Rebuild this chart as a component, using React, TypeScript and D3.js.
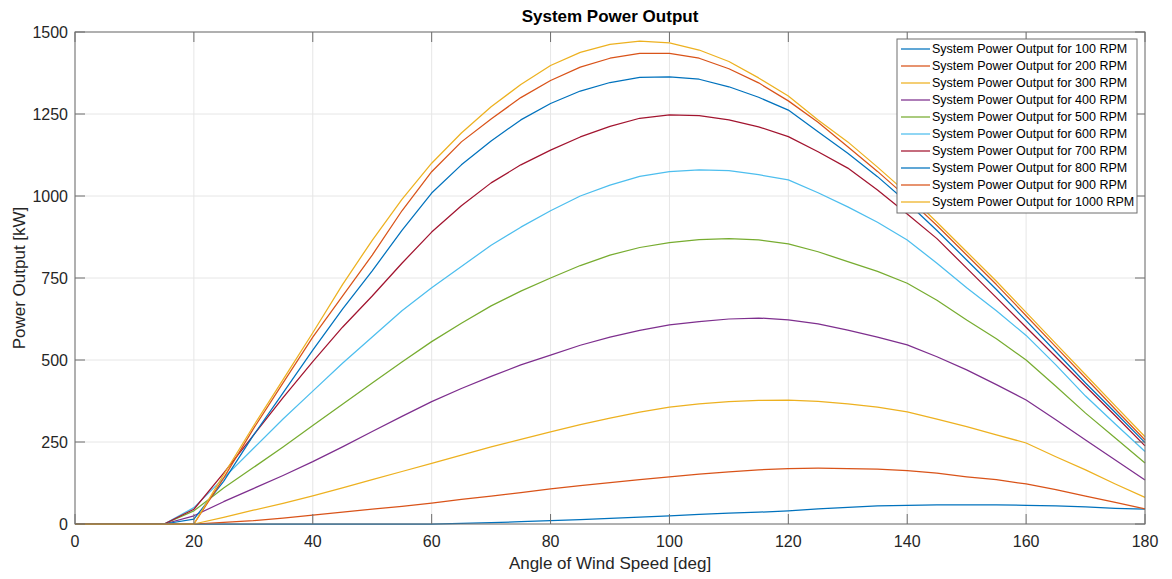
import React from "react";
import * as d3 from "d3";

// Wind angle samples (deg), 5-degree steps from 0 to 180
const angles: number[] = d3.range(0, 181, 5);

// System power output [kW] per rotor speed, one value per angle
const p100: number[] = [0,0,0,0,0,0,0,0,0,0,0,0,0,2,4,7,10,13,17,21,25,29,33,36,40,46,51,55,57,58,58,58,57,55,52,48,45];
const p200: number[] = [0,0,0,0,0,5,10,18,27,36,45,54,64,75,85,96,107,117,126,135,144,152,159,165,169,170,169,167,163,155,144,135,122,105,85,66,46];
const p300: number[] = [0,0,0,0,0,20,42,63,86,110,135,160,185,210,235,258,281,303,323,341,356,366,373,377,378,374,366,356,342,320,297,272,247,205,165,122,81];
const p400: number[] = [0,0,0,0,25,68,108,148,190,235,282,328,373,413,450,485,515,545,570,590,607,617,625,628,622,610,591,570,546,510,470,425,378,318,256,195,134];
const p500: number[] = [0,0,0,0,40,110,172,235,300,365,430,494,556,612,665,710,750,788,820,843,858,867,870,866,854,830,800,770,734,682,622,565,500,420,338,262,186];
const p600: number[] = [0,0,0,0,50,140,230,320,405,490,570,650,720,785,850,905,955,1000,1033,1060,1074,1080,1077,1065,1049,1010,967,920,866,795,720,650,575,485,390,305,221];
const p700: number[] = [0,0,0,0,45,155,270,385,495,600,695,795,890,970,1040,1095,1140,1180,1212,1237,1247,1245,1232,1211,1181,1135,1085,1018,945,870,780,690,600,510,420,330,238];
const p800: number[] = [0,0,0,0,15,130,270,400,530,655,772,895,1009,1095,1168,1232,1282,1320,1346,1362,1363,1356,1333,1301,1262,1196,1130,1059,980,895,805,715,620,525,430,340,248];
const p900: number[] = [0,0,0,0,0,140,290,430,570,695,820,955,1074,1165,1235,1300,1352,1393,1420,1435,1435,1420,1388,1345,1290,1225,1150,1075,995,910,820,730,635,540,445,350,256];
const p1000: number[] = [0,0,0,0,0,150,298,440,583,730,865,990,1100,1192,1272,1340,1398,1438,1462,1472,1467,1445,1410,1360,1305,1232,1165,1088,1008,920,830,740,645,550,455,360,266];

const rpmLabels: string[] = ["100","200","300","400","500","600","700","800","900","1000"];
const seriesValues: number[][] = [p100,p200,p300,p400,p500,p600,p700,p800,p900,p1000];
const colors: string[] = ["#0072BD","#D95319","#EDB120","#7E2F8E","#77AC30","#4DBEEE","#A2142F","#0072BD","#D95319","#EDB120"];

const xTicks: number[] = [0,20,40,60,80,100,120,140,160,180];
const yTicks: number[] = [0,250,500,750,1000,1250,1500];

const W = 1172, H = 579;
const M = { left: 75, right: 1145, top: 32, bottom: 524 };
const FONT = "'Liberation Sans', Arial, Helvetica, sans-serif";

export default function App() {
  const x = d3.scaleLinear().domain([0, 180]).range([M.left, M.right]);
  const y = d3.scaleLinear().domain([0, 1500]).range([M.bottom, M.top]);
  const line = d3.line<[number, number]>().x(d => x(d[0])).y(d => y(d[1]));

  const legendX = 897, legendY = 39, legendW = 240, legendH = 174;
  const rowH = 17;

  return (
    <svg width={W} height={H} style={{ position: "absolute", left: 0, top: 0, background: "#fff" }}
      fontFamily={FONT}>
      <rect x={0} y={0} width={W} height={H} fill="#fff" />
      {/* grid */}
      {xTicks.map(t => (
        <line key={"gx" + t} x1={x(t)} x2={x(t)} y1={M.top} y2={M.bottom} stroke="#e6e6e6" strokeWidth={1} />
      ))}
      {yTicks.map(t => (
        <line key={"gy" + t} x1={M.left} x2={M.right} y1={y(t)} y2={y(t)} stroke="#e6e6e6" strokeWidth={1} />
      ))}
      {/* series */}
      {seriesValues.map((vals, i) => (
        <path key={"s" + i} d={line(angles.map((a, j) => [a, vals[j]] as [number, number])) || ""}
          fill="none" stroke={colors[i]} strokeWidth={1.25} strokeLinejoin="round" />
      ))}
      {/* axes box */}
      <rect x={M.left} y={M.top} width={M.right - M.left} height={M.bottom - M.top}
        fill="none" stroke="#6e6e6e" strokeWidth={1} />
      {xTicks.map(t => (
        <g key={"tx" + t}>
          <line x1={x(t)} x2={x(t)} y1={M.bottom} y2={M.bottom - 10} stroke="#6e6e6e" />
          <line x1={x(t)} x2={x(t)} y1={M.top} y2={M.top + 10} stroke="#6e6e6e" />
          <text x={x(t)} y={M.bottom + 23} textAnchor="middle" fontSize={16} fill="#262626">{t}</text>
        </g>
      ))}
      {yTicks.map(t => (
        <g key={"ty" + t}>
          <line x1={M.left} x2={M.left + 10} y1={y(t)} y2={y(t)} stroke="#6e6e6e" />
          <line x1={M.right} x2={M.right - 10} y1={y(t)} y2={y(t)} stroke="#6e6e6e" />
          <text x={M.left - 7} y={y(t)} dy="0.35em" textAnchor="end" fontSize={16} fill="#262626">{t}</text>
        </g>
      ))}
      {/* titles */}
      <text x={(M.left + M.right) / 2} y={22} textAnchor="middle" fontSize={17} fontWeight="bold" fill="#000">System Power Output</text>
      <text x={(M.left + M.right) / 2} y={569} textAnchor="middle" fontSize={17} fill="#262626">Angle of Wind Speed [deg]</text>
      <text transform={`translate(25, ${(M.top + M.bottom) / 2}) rotate(-90)`} textAnchor="middle" fontSize={17} fill="#262626">Power Output [kW]</text>
      {/* legend */}
      <rect x={legendX} y={legendY} width={legendW} height={legendH} fill="#fff" stroke="#6e6e6e" strokeWidth={1} />
      {rpmLabels.map((r, i) => {
        const cy = legendY + 10 + i * rowH;
        return (
          <g key={"l" + r}>
            <line x1={legendX + 4} x2={legendX + 33} y1={cy} y2={cy} stroke={colors[i]} strokeWidth={1.25} />
            <text x={legendX + 35} y={cy} dy="0.35em" fontSize={12.5} fill="#000">{`System Power Output for ${r} RPM`}</text>
          </g>
        );
      })}
    </svg>
  );
}
